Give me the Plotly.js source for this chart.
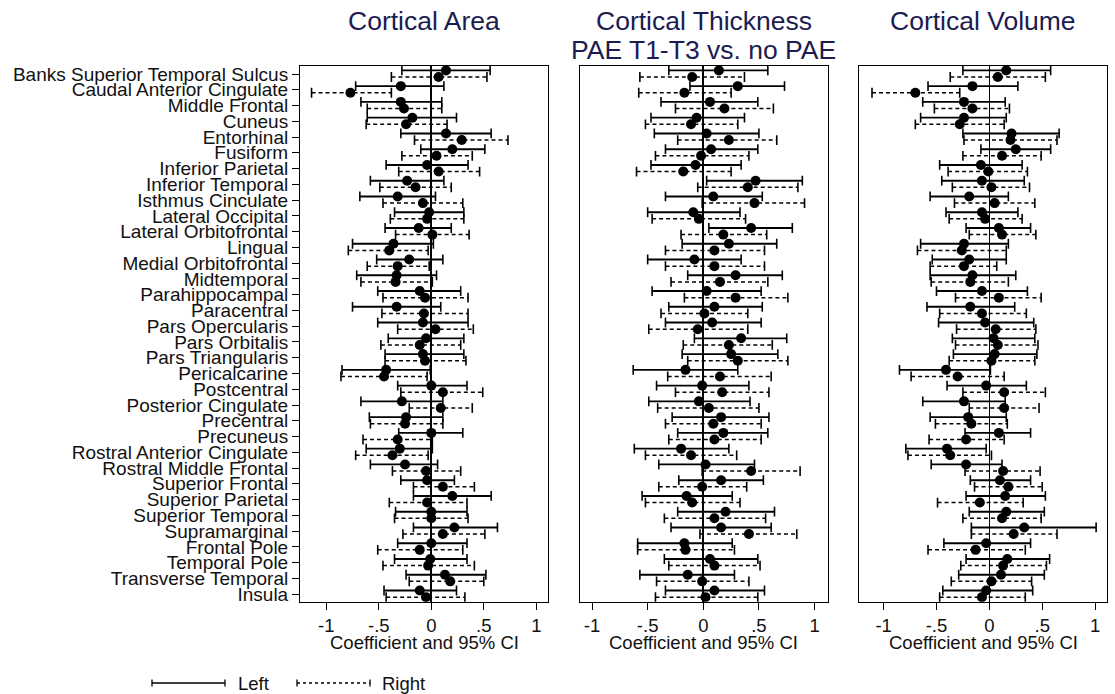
<!DOCTYPE html>
<html>
<head>
<meta charset="utf-8">
<script src="https://cdn.plot.ly/plotly-3.0.1.min.js"></script>
<style>
html,body{margin:0;padding:0;background:#fff;}
#chart{width:1115px;height:694px;}
</style>
</head>
<body>
<div id="chart"></div>
<script>
// ---------- data ----------
const regions = ["Banks Superior Temporal Sulcus","Caudal Anterior Cingulate","Middle Frontal","Cuneus","Entorhinal","Fusiform","Inferior Parietal","Inferior Temporal","Isthmus Cinculate","Lateral Occipital","Lateral Orbitofrontal","Lingual","Medial Orbitofrontal","Midtemporal","Parahippocampal","Paracentral","Pars Opercularis","Pars Orbitalis","Pars Triangularis","Pericalcarine","Postcentral","Posterior Cingulate","Precentral","Precuneus","Rostral Anterior Cingulate","Rostral Middle Frontal","Superior Frontal","Superior Parietal","Superior Temporal","Supramarginal","Frontal Pole","Temporal Pole","Transverse Temporal","Insula"];

const panelTitles = ["Cortical Area", "Cortical Thickness", "Cortical Volume"];
const panelSubtitle = "PAE T1-T3 vs. no PAE";
const axisTitle = "Coefficient and 95% CI";
const xTickVals = [-1, -0.5, 0, 0.5, 1];
const xTickText = ["-1", "-.5", "0", ".5", "1"];
const legendLabels = ["Left", "Right"];

// Cortical Area
const areaLeftCoef = [0.14,-0.29,-0.29,-0.18,0.14,0.20,-0.04,-0.23,-0.32,-0.02,-0.12,-0.36,-0.21,-0.33,-0.11,-0.33,-0.08,-0.05,-0.08,-0.43,0.00,-0.28,-0.24,0.00,-0.30,-0.25,-0.04,0.20,0.00,0.22,0.00,-0.01,0.13,-0.11];
const areaLeftLo   = [-0.28,-0.72,-0.67,-0.61,-0.29,-0.10,-0.43,-0.58,-0.68,-0.35,-0.44,-0.75,-0.52,-0.71,-0.51,-0.75,-0.51,-0.41,-0.44,-0.85,-0.32,-0.67,-0.59,-0.31,-0.62,-0.58,-0.29,-0.17,-0.34,-0.17,-0.32,-0.35,-0.24,-0.45];
const areaLeftHi   = [0.56,0.12,0.10,0.24,0.57,0.51,0.35,0.12,0.04,0.31,0.19,0.02,0.11,0.05,0.28,0.09,0.35,0.31,0.31,-0.01,0.34,0.11,0.11,0.30,0.01,0.06,0.22,0.57,0.34,0.63,0.34,0.34,0.52,0.24];
const areaRightCoef = [0.07,-0.77,-0.26,-0.24,0.29,0.05,0.07,-0.15,-0.08,-0.04,0.01,-0.40,-0.32,-0.34,-0.06,-0.07,0.04,-0.11,-0.06,-0.45,0.11,0.09,-0.25,-0.32,-0.37,-0.05,0.11,-0.04,0.00,0.11,-0.11,-0.03,0.18,-0.05];
const areaRightLo   = [-0.38,-1.14,-0.61,-0.62,-0.16,-0.28,-0.31,-0.49,-0.46,-0.39,-0.34,-0.79,-0.61,-0.67,-0.46,-0.47,-0.32,-0.48,-0.44,-0.86,-0.29,-0.21,-0.58,-0.65,-0.72,-0.37,-0.17,-0.40,-0.35,-0.27,-0.51,-0.46,-0.21,-0.43];
const areaRightHi   = [0.53,-0.38,0.10,0.15,0.73,0.39,0.46,0.19,0.30,0.31,0.36,-0.03,-0.02,0.01,0.35,0.35,0.40,0.28,0.33,-0.04,0.49,0.39,0.11,0.01,-0.03,0.28,0.41,0.34,0.35,0.51,0.30,0.41,0.50,0.32];

// Cortical Thickness
const thickLeftCoef = [0.14,0.31,0.06,-0.06,0.03,0.07,-0.07,0.47,0.09,-0.09,0.43,0.23,-0.08,0.29,0.03,0.10,0.08,0.34,0.25,-0.16,-0.01,-0.04,0.16,0.18,-0.20,0.02,0.16,-0.15,0.20,0.16,-0.17,0.06,-0.14,0.10];
const thickLeftLo   = [-0.31,-0.12,-0.38,-0.47,-0.44,-0.34,-0.47,0.03,-0.34,-0.50,0.05,-0.19,-0.50,-0.14,-0.46,-0.31,-0.34,-0.08,-0.19,-0.63,-0.42,-0.49,-0.28,-0.23,-0.62,-0.40,-0.22,-0.55,-0.23,-0.29,-0.59,-0.35,-0.57,-0.34];
const thickLeftHi   = [0.58,0.73,0.49,0.37,0.50,0.49,0.34,0.89,0.53,0.33,0.80,0.66,0.34,0.71,0.52,0.53,0.52,0.75,0.67,0.31,0.41,0.42,0.59,0.58,0.23,0.46,0.54,0.26,0.64,0.61,0.26,0.49,0.28,0.55];
const thickRightCoef = [-0.10,-0.17,0.19,-0.11,0.23,-0.02,-0.18,0.40,0.46,-0.04,0.18,0.10,0.10,0.15,0.29,0.01,-0.05,0.23,0.31,0.15,0.17,0.05,0.09,0.10,-0.11,0.43,-0.01,-0.10,0.10,0.41,-0.16,0.10,-0.01,0.02];
const thickRightLo   = [-0.57,-0.58,-0.25,-0.52,-0.23,-0.43,-0.60,-0.05,-0.01,-0.46,-0.20,-0.34,-0.34,-0.29,-0.17,-0.38,-0.49,-0.18,-0.14,-0.32,-0.25,-0.41,-0.34,-0.31,-0.52,-0.01,-0.40,-0.52,-0.35,-0.03,-0.59,-0.31,-0.42,-0.43];
const thickRightHi   = [0.37,0.25,0.63,0.31,0.66,0.41,0.25,0.85,0.91,0.38,0.57,0.55,0.55,0.58,0.76,0.40,0.40,0.62,0.76,0.61,0.59,0.50,0.52,0.52,0.30,0.87,0.39,0.33,0.56,0.84,0.28,0.51,0.41,0.49];

// Cortical Volume
const volLeftCoef = [0.16,-0.16,-0.24,-0.24,0.21,0.25,-0.08,-0.07,-0.19,-0.07,0.09,-0.24,-0.19,-0.16,-0.07,-0.18,-0.04,0.04,0.05,-0.41,-0.03,-0.24,-0.20,0.09,-0.40,-0.22,0.10,0.15,0.16,0.33,-0.03,0.17,0.11,-0.03];
const volLeftLo   = [-0.25,-0.58,-0.63,-0.65,-0.25,-0.08,-0.47,-0.45,-0.56,-0.41,-0.22,-0.65,-0.54,-0.56,-0.50,-0.59,-0.48,-0.35,-0.34,-0.85,-0.40,-0.63,-0.56,-0.23,-0.79,-0.55,-0.18,-0.22,-0.19,-0.17,-0.43,-0.22,-0.29,-0.44];
const volLeftHi   = [0.58,0.27,0.15,0.16,0.66,0.58,0.31,0.33,0.18,0.27,0.39,0.18,0.16,0.25,0.36,0.24,0.42,0.43,0.45,0.01,0.35,0.15,0.16,0.39,-0.03,0.12,0.39,0.53,0.52,1.01,0.39,0.57,0.52,0.41];
const volRightCoef = [0.08,-0.70,-0.16,-0.28,0.20,0.12,-0.01,0.02,0.05,-0.04,0.12,-0.26,-0.24,-0.18,0.09,-0.07,0.06,0.08,0.02,-0.30,0.14,0.14,-0.17,-0.22,-0.37,0.13,0.18,-0.09,0.12,0.23,-0.13,0.13,0.02,-0.07];
const volRightLo   = [-0.37,-1.11,-0.52,-0.70,-0.24,-0.25,-0.39,-0.35,-0.33,-0.38,-0.19,-0.68,-0.56,-0.55,-0.32,-0.47,-0.31,-0.32,-0.38,-0.74,-0.25,-0.19,-0.51,-0.57,-0.77,-0.23,-0.14,-0.49,-0.25,-0.17,-0.58,-0.27,-0.36,-0.47];
const volRightHi   = [0.53,-0.28,0.19,0.14,0.64,0.49,0.36,0.38,0.43,0.31,0.44,0.16,0.07,0.18,0.49,0.35,0.44,0.46,0.43,0.14,0.53,0.47,0.17,0.14,0.02,0.48,0.50,0.32,0.49,0.64,0.34,0.54,0.40,0.34];

// ---------- build ----------
const W = 1115, H = 694;
const px = v => v / W;
const py = v => 1 - v / H;
const rows = regions.map((_, i) => i);
const offL = -0.23, offR = 0.19;

const panels = [
  {xa:'x',  ya:'y',  L:[areaLeftCoef, areaLeftLo, areaLeftHi],   R:[areaRightCoef, areaRightLo, areaRightHi]},
  {xa:'x2', ya:'y2', L:[thickLeftCoef, thickLeftLo, thickLeftHi], R:[thickRightCoef, thickRightLo, thickRightHi]},
  {xa:'x3', ya:'y3', L:[volLeftCoef, volLeftLo, volLeftHi],       R:[volRightCoef, volRightLo, volRightHi]}
];

const traces = [];
function addSide(p, arr, off, dash, lw) {
  const [coef, lo, hi] = arr;
  const ry = rows.map(r => r + off);
  const lx = [], ly = [];
  lo.forEach((v, i) => { lx.push(v, hi[i], null); ly.push(ry[i], ry[i], null); });
  traces.push({type:'scatter', mode:'lines', x:lx, y:ly, xaxis:p.xa, yaxis:p.ya,
    line:{color:'#000', width:lw, dash:dash}, hoverinfo:'skip', showlegend:false});
  traces.push({type:'scatter', mode:'markers', x:lo.concat(hi), y:ry.concat(ry), xaxis:p.xa, yaxis:p.ya,
    marker:{symbol:'line-ns', size:7, color:'#000', line:{color:'#000', width:1.6}}, hoverinfo:'skip', showlegend:false});
  traces.push({type:'scatter', mode:'markers', x:coef, y:ry, xaxis:p.xa, yaxis:p.ya,
    marker:{symbol:'circle', size:10, color:'#000'}, showlegend:false});
}
panels.forEach(p => {
  addSide(p, p.L, offL, 'solid', 1.9);
  addSide(p, p.R, offR, '4px,3px', 1.5);
});

const font = 'Liberation Sans, Arial, sans-serif';
const titleFont = {family: font, size: 26.5, color: '#1c1c50'};
const xDomains = [[300, 548.3], [580, 827.7], [859.3, 1106.7]];
const xRanges = [[-1.25, 1.114], [-1.108, 1.118], [-1.23, 1.11]];
const yDomain = [py(601.7), py(65.7)];
const yRange = [33.48, -0.527];

const layout = {
  width: W, height: H,
  margin: {l:0, r:0, t:0, b:0},
  paper_bgcolor: '#fff', plot_bgcolor: '#fff',
  showlegend: false,
  font: {family: font, color: '#111', size: 18},
  annotations: [], shapes: []
};

xDomains.forEach((d, k) => {
  const s = k === 0 ? '' : String(k + 1);
  layout['xaxis' + s] = {
    domain: [px(d[0]), px(d[1])], range: xRanges[k], anchor: 'y' + s,
    tickmode: 'array', tickvals: xTickVals, ticktext: xTickText,
    ticks: 'outside', ticklen: 7, tickwidth: 1, tickcolor: '#000',
    showline: true, mirror: true, linecolor: '#000', linewidth: 1,
    showgrid: false, zeroline: true, zerolinecolor: '#000', zerolinewidth: 1.6,
    tickfont: {size: 18.5, family: font, color: '#111'}, fixedrange: true
  };
  layout['yaxis' + s] = {
    domain: yDomain, range: yRange, anchor: 'x' + s,
    tickmode: 'array', tickvals: rows, ticktext: regions,
    showticklabels: k === 0,
    ticks: k === 0 ? 'outside' : '', ticklen: 7, tickwidth: 1, tickcolor: '#000',
    showline: true, mirror: true, linecolor: '#000', linewidth: 1,
    showgrid: false, zeroline: false,
    tickfont: {size: 19, family: font, color: '#111'}, fixedrange: true
  };
  layout.annotations.push({
    xref: 'x' + s + ' domain', x: 0.5, yref: 'paper', y: py(21), yanchor: 'middle', xanchor: 'center',
    text: panelTitles[k], showarrow: false, font: titleFont
  });
  layout.annotations.push({
    xref: 'x' + s + ' domain', x: 0.5, yref: 'paper', y: py(642), yanchor: 'middle', xanchor: 'center',
    text: axisTitle, showarrow: false,
    font: {family: font, size: 18.5, color: '#111'}
  });
});
layout.annotations.push({
  xref: 'x2 domain', x: 0.5, yref: 'paper', y: py(50), yanchor: 'middle', xanchor: 'center',
  text: panelSubtitle, showarrow: false, font: titleFont
});

// legend (manual key)
const legY = 683;
const keys = [
  {x0:152, x1:225, dash:'solid', w:1.6, tx:236, label:legendLabels[0]},
  {x0:297, x1:370, dash:'3px,3px', w:1.3, tx:380, label:legendLabels[1]}
];
keys.forEach(k => {
  layout.shapes.push({type:'line', xref:'paper', yref:'paper', x0:px(k.x0), x1:px(k.x1), y0:py(legY), y1:py(legY),
    line:{color:'#000', width:k.w, dash:k.dash}});
  [k.x0, k.x1].forEach(xx => layout.shapes.push({type:'line', xref:'paper', yref:'paper',
    x0:px(xx), x1:px(xx), y0:py(legY - 3.5), y1:py(legY + 3.5), line:{color:'#000', width:1.3}}));
  layout.annotations.push({xref:'paper', yref:'paper', x:px(k.tx), y:py(legY), xanchor:'left', yanchor:'middle',
    text:k.label, showarrow:false, font:{family:font, size:18.5, color:'#111'}});
});

Plotly.newPlot('chart', traces, layout, {staticPlot: true, displayModeBar: false});
</script>
</body>
</html>
